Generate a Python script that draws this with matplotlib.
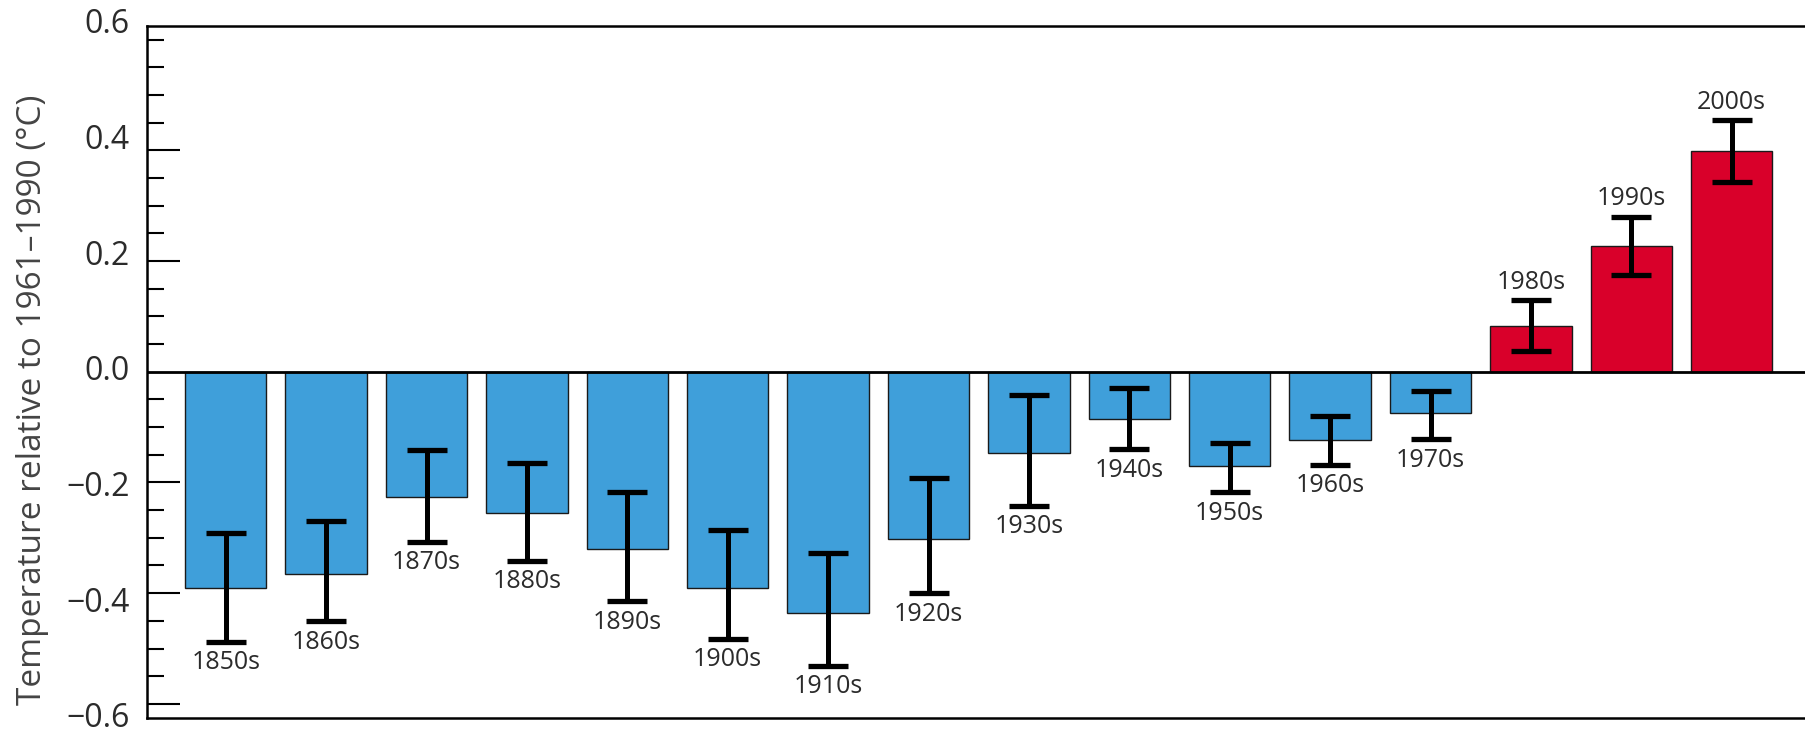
import numpy as np
import matplotlib
matplotlib.use('Agg')
import matplotlib.pyplot as plt

# decadal temperature anomalies
decades = ['1850s', '1860s', '1870s', '1880s', '1890s', '1900s', '1910s', '1920s',
           '1930s', '1940s', '1950s', '1960s', '1970s', '1980s', '1990s', '2000s']
anomaly = [-0.390, -0.365, -0.227, -0.255, -0.321, -0.391, -0.435, -0.303,
           -0.147, -0.086, -0.171, -0.123, -0.075, 0.083, 0.228, 0.399]
err_lo = [-0.488, -0.451, -0.307, -0.342, -0.415, -0.483, -0.531, -0.400,
          -0.242, -0.140, -0.218, -0.168, -0.122, 0.037, 0.175, 0.343]
err_hi = [-0.291, -0.270, -0.141, -0.164, -0.218, -0.286, -0.327, -0.192,
          -0.042, -0.029, -0.129, -0.080, -0.034, 0.129, 0.280, 0.454]
ytick_vals = [-0.6, -0.4, -0.2, 0.0, 0.2, 0.4, 0.6]

blue = '#3F9FDA'
red = '#D9002A'
txt = '#2b2b2b'

plt.rcParams['font.family'] = ['Open Sans', 'DejaVu Sans']

fig = plt.figure(figsize=(18.05, 7.35), dpi=100)
ax = fig.add_axes([0.0814, 0.0235, 0.9186, 0.9415])

x = np.arange(len(decades))
vals = np.array(anomaly)
lo = vals - np.array(err_lo)
hi = np.array(err_hi) - vals
colors = [red if v > 0 else blue for v in vals]

ax.bar(x, vals, 0.81, color=colors, edgecolor='#1a1a1a', linewidth=1.0, zorder=2)
ax.errorbar(x, vals, yerr=[lo, hi], fmt='none', ecolor='black',
            elinewidth=3.6, capsize=14.5, capthick=3.8, zorder=3)
ax.axhline(0, color='black', linewidth=2, zorder=4)

# decade labels beyond the error bars
for i, d in enumerate(decades):
    if vals[i] < 0:
        ax.annotate(d, (x[i], err_lo[i]), xytext=(0, -6), textcoords='offset points',
                    ha='center', va='top', fontsize=18, color=txt)
    else:
        ax.annotate(d, (x[i], err_hi[i]), xytext=(0, 4), textcoords='offset points',
                    ha='center', va='bottom', fontsize=18, color=txt)

ax.set_xlim(-0.785, 15.73)
ax.set_ylim(-0.625, 0.625)
ax.set_xticks([])

# long marks every 0.2 (no mark at 0.6), short ones every 0.05
major = [-0.6, -0.4, -0.2, 0.2, 0.4]
ax.set_yticks(major)
ax.set_yticks([v for v in np.round(np.arange(-0.6, 0.61, 0.05), 2)
               if v not in major and v != 0], minor=True)
ax.tick_params(axis='y', which='major', direction='in', length=24, width=1.5, labelleft=False)
ax.tick_params(axis='y', which='minor', direction='in', length=12, width=1.5)

# the original's labels sit a little spread out relative to the marks
ytr = ax.get_yaxis_transform()
for v in ytick_vals:
    lab = ('%.1f' % v).replace('-', '\u2212')
    ax.text(-0.0105, v * 1.045, lab, transform=ytr, ha='right', va='center',
            fontsize=23, color=txt)

ax.set_ylabel('Temperature relative to 1961\u20131990 (\u00b0C)', fontsize=24, color='#444444')
ax.yaxis.set_label_coords(-0.059, 0.46)

for s in ['top', 'left', 'bottom']:
    ax.spines[s].set_linewidth(1.8)
ax.spines['right'].set_visible(False)

plt.savefig('out.png', dpi=100)
